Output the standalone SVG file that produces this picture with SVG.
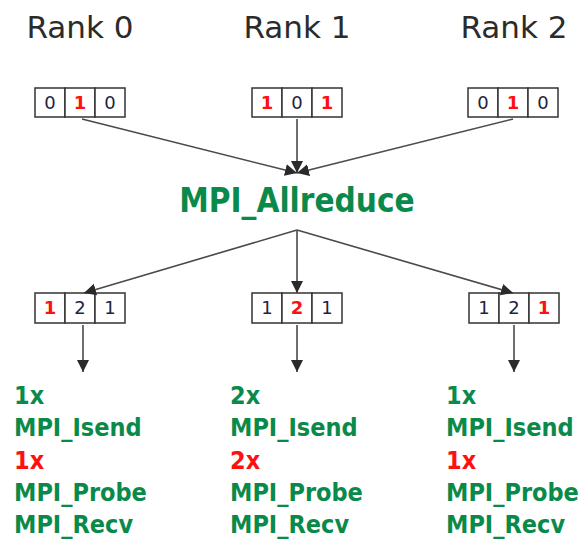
<svg xmlns="http://www.w3.org/2000/svg" width="585" height="541" viewBox="0 0 585 541">
  <style>
    .rank { font-family: "DejaVu Sans", sans-serif; font-size: 31px; fill: #2b2b2b; text-anchor: middle; }
    .cell { fill: #ffffff; stroke: #333333; stroke-width: 1.5; }
    .num { font-family: "DejaVu Sans", sans-serif; font-size: 18px; fill: #1c2540; text-anchor: middle; }
    .hot { fill: #ff1010; font-weight: bold; }
    .op { font-family: "DejaVu Sans Condensed", "DejaVu Sans", sans-serif; font-weight: bold; fill: #0a8a4a; }
    .red { fill: #ff1010; }
    .edge { stroke: #4a4a4a; stroke-width: 1.6; fill: none; marker-end: url(#head); }
  </style>
  <defs>
    <marker id="head" markerUnits="userSpaceOnUse" markerWidth="12" markerHeight="14" viewBox="0 0 12 14" refX="12" refY="7" orient="auto">
      <path d="M0,1 L12,7 L0,13 Z" fill="#2a2a2a"/>
    </marker>
  </defs>

  <rect width="585" height="541" fill="#ffffff"/>

  <!-- rank headings -->
  <text class="rank" x="80" y="38">Rank 0</text>
  <text class="rank" x="297" y="38">Rank 1</text>
  <text class="rank" x="514" y="38">Rank 2</text>

  <!-- input vectors -->
  <g id="in0">
    <rect class="cell" x="35" y="88" width="30" height="29"/>
    <rect class="cell" x="65" y="88" width="30" height="29"/>
    <rect class="cell" x="95" y="88" width="30" height="29"/>
    <text class="num" x="50" y="109">0</text>
    <text class="num hot" x="80" y="109">1</text>
    <text class="num" x="110" y="109">0</text>
  </g>
  <g id="in1">
    <rect class="cell" x="252" y="88" width="30" height="29"/>
    <rect class="cell" x="282" y="88" width="30" height="29"/>
    <rect class="cell" x="312" y="88" width="30" height="29"/>
    <text class="num hot" x="267" y="109">1</text>
    <text class="num" x="297" y="109">0</text>
    <text class="num hot" x="327" y="109">1</text>
  </g>
  <g id="in2">
    <rect class="cell" x="468" y="88" width="30" height="29"/>
    <rect class="cell" x="498" y="88" width="30" height="29"/>
    <rect class="cell" x="528" y="88" width="30" height="29"/>
    <text class="num" x="483" y="109">0</text>
    <text class="num hot" x="513" y="109">1</text>
    <text class="num" x="543" y="109">0</text>
  </g>

  <!-- collective operation -->
  <g id="allreduce">
    <text class="op" x="297" y="212" font-size="33" text-anchor="middle">MPI_Allreduce</text>
  </g>

  <!-- result vectors -->
  <g id="out0">
    <rect class="cell" x="35" y="293" width="30" height="30"/>
    <rect class="cell" x="65" y="293" width="30" height="30"/>
    <rect class="cell" x="95" y="293" width="30" height="30"/>
    <text class="num hot" x="50" y="314">1</text>
    <text class="num" x="80" y="314">2</text>
    <text class="num" x="110" y="314">1</text>
  </g>
  <g id="out1">
    <rect class="cell" x="252" y="293" width="30" height="30"/>
    <rect class="cell" x="282" y="293" width="30" height="30"/>
    <rect class="cell" x="312" y="293" width="30" height="30"/>
    <text class="num" x="267" y="314">1</text>
    <text class="num hot" x="297" y="314">2</text>
    <text class="num" x="327" y="314">1</text>
  </g>
  <g id="out2">
    <rect class="cell" x="469" y="293" width="30" height="30"/>
    <rect class="cell" x="499" y="293" width="30" height="30"/>
    <rect class="cell" x="529" y="293" width="30" height="30"/>
    <text class="num" x="484" y="314">1</text>
    <text class="num" x="514" y="314">2</text>
    <text class="num hot" x="544" y="314">1</text>
  </g>

  <!-- per-rank message counts -->
  <g id="calls0" class="op" font-size="25">
    <text x="14" y="404">1x</text>
    <text x="14" y="436">MPI_Isend</text>
    <text x="14" y="469" class="red">1x</text>
    <text x="14" y="501">MPI_Probe</text>
    <text x="14" y="533">MPI_Recv</text>
  </g>
  <g id="calls1" class="op" font-size="25">
    <text x="230" y="404">2x</text>
    <text x="230" y="436">MPI_Isend</text>
    <text x="230" y="469" class="red">2x</text>
    <text x="230" y="501">MPI_Probe</text>
    <text x="230" y="533">MPI_Recv</text>
  </g>
  <g id="calls2" class="op" font-size="25">
    <text x="446" y="404">1x</text>
    <text x="446" y="436">MPI_Isend</text>
    <text x="446" y="469" class="red">1x</text>
    <text x="446" y="501">MPI_Probe</text>
    <text x="446" y="533">MPI_Recv</text>
  </g>

  <!-- connectors -->
  <g id="connectors">
    <line class="edge" x1="82" y1="119" x2="297" y2="173"/>
    <line class="edge" x1="297" y1="119" x2="297" y2="173"/>
    <line class="edge" x1="513" y1="119" x2="297" y2="173"/>
    <line class="edge" x1="297" y1="230" x2="84" y2="293"/>
    <line class="edge" x1="297" y1="230" x2="297" y2="293"/>
    <line class="edge" x1="297" y1="230" x2="513" y2="293"/>
    <line class="edge" x1="83" y1="325" x2="83" y2="372"/>
    <line class="edge" x1="297" y1="325" x2="297" y2="372"/>
    <line class="edge" x1="514" y1="325" x2="514" y2="372"/>
  </g>
</svg>
